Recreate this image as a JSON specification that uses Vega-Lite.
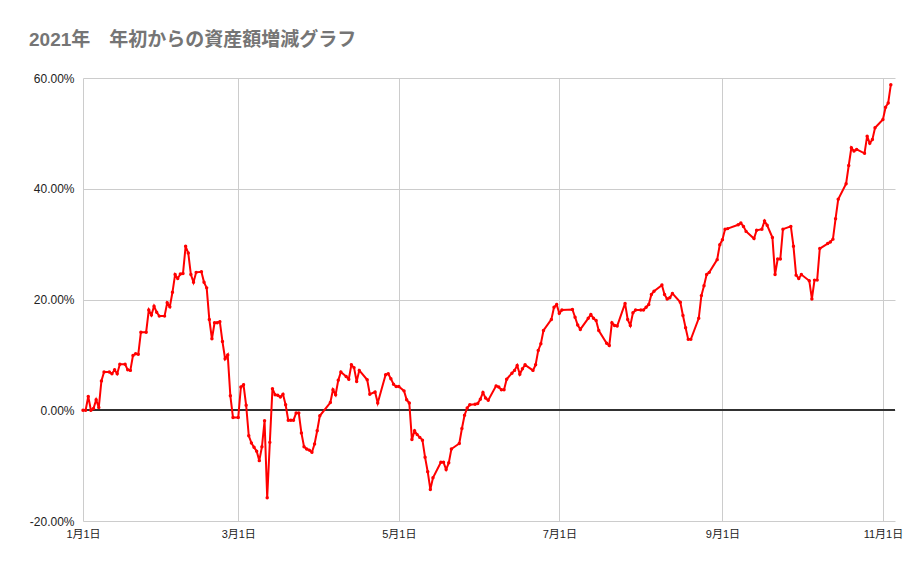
{
  "$schema": "https://vega.github.io/schema/vega-lite/v6.json",
  "width": 812,
  "height": 443,
  "autosize": {"type": "none"},
  "padding": {"left": 83, "top": 78, "right": 26, "bottom": 48},
  "background": "white",
  "title": {
    "text": "2021年　年初からの資産額増減グラフ",
    "anchor": "start",
    "frame": "group",
    "dx": -54,
    "offset": 22,
    "font": "Liberation Sans, Noto Sans CJK JP",
    "fontSize": 19,
    "fontWeight": "bold",
    "color": "#757575"
  },
  "config": {
    "view": {"stroke": null},
    "axis": {
      "labelFont": "Liberation Sans, Noto Sans CJK JP",
      "labelFontSize": 11,
      "labelColor": "#222222",
      "gridColor": "#cccccc",
      "gridWidth": 1,
      "ticks": false,
      "domain": false,
      "title": null
    }
  },
  "data": {
    "values": [
      {"d":"2021/01/01","v":0.0},{"d":"2021/01/02","v":0.0},{"d":"2021/01/03","v":2.5},{"d":"2021/01/04","v":0.0},
      {"d":"2021/01/05","v":0.3},{"d":"2021/01/06","v":1.9},{"d":"2021/01/07","v":0.5},{"d":"2021/01/08","v":5.3},
      {"d":"2021/01/09","v":6.9},{"d":"2021/01/11","v":6.9},{"d":"2021/01/12","v":6.6},{"d":"2021/01/13","v":7.3},
      {"d":"2021/01/14","v":6.6},{"d":"2021/01/15","v":8.3},{"d":"2021/01/17","v":8.3},{"d":"2021/01/18","v":7.3},
      {"d":"2021/01/19","v":7.2},{"d":"2021/01/20","v":9.9},{"d":"2021/01/21","v":10.2},{"d":"2021/01/22","v":10.1},
      {"d":"2021/01/23","v":14.1},{"d":"2021/01/25","v":14.1},{"d":"2021/01/26","v":18.1},{"d":"2021/01/27","v":17.2},
      {"d":"2021/01/28","v":18.8},{"d":"2021/01/29","v":17.7},{"d":"2021/01/30","v":17.0},{"d":"2021/02/01","v":17.0},
      {"d":"2021/02/02","v":19.4},{"d":"2021/02/03","v":18.7},{"d":"2021/02/04","v":21.3},{"d":"2021/02/05","v":24.5},
      {"d":"2021/02/06","v":23.8},{"d":"2021/02/07","v":24.6},{"d":"2021/02/08","v":24.7},{"d":"2021/02/09","v":29.6},
      {"d":"2021/02/10","v":28.4},{"d":"2021/02/11","v":24.5},{"d":"2021/02/12","v":23.1},{"d":"2021/02/13","v":24.9},
      {"d":"2021/02/15","v":25.0},{"d":"2021/02/16","v":23.1},{"d":"2021/02/17","v":22.1},{"d":"2021/02/18","v":16.4},
      {"d":"2021/02/19","v":12.9},{"d":"2021/02/20","v":15.8},{"d":"2021/02/21","v":15.8},{"d":"2021/02/22","v":16.0},
      {"d":"2021/02/23","v":12.4},{"d":"2021/02/24","v":9.3},{"d":"2021/02/25","v":10.0},{"d":"2021/02/26","v":2.6},
      {"d":"2021/02/27","v":-1.3},{"d":"2021/03/01","v":-1.3},{"d":"2021/03/02","v":4.2},{"d":"2021/03/03","v":4.6},
      {"d":"2021/03/04","v":0.9},{"d":"2021/03/05","v":-4.6},{"d":"2021/03/06","v":-5.9},{"d":"2021/03/07","v":-6.7},
      {"d":"2021/03/08","v":-7.4},{"d":"2021/03/09","v":-9.1},{"d":"2021/03/10","v":-6.6},{"d":"2021/03/11","v":-1.9},
      {"d":"2021/03/12","v":-15.8},{"d":"2021/03/13","v":-5.8},{"d":"2021/03/14","v":3.9},{"d":"2021/03/15","v":2.8},
      {"d":"2021/03/16","v":2.7},{"d":"2021/03/17","v":2.4},{"d":"2021/03/18","v":2.9},{"d":"2021/03/19","v":1.0},
      {"d":"2021/03/20","v":-1.8},{"d":"2021/03/21","v":-1.8},{"d":"2021/03/22","v":-1.8},{"d":"2021/03/23","v":-0.5},
      {"d":"2021/03/24","v":-0.5},{"d":"2021/03/25","v":-4.1},{"d":"2021/03/26","v":-6.6},{"d":"2021/03/27","v":-7.0},
      {"d":"2021/03/28","v":-7.2},{"d":"2021/03/29","v":-7.6},{"d":"2021/03/30","v":-6.1},{"d":"2021/03/31","v":-3.7},
      {"d":"2021/04/01","v":-1.0},{"d":"2021/04/05","v":1.4},{"d":"2021/04/06","v":3.7},{"d":"2021/04/07","v":2.8},
      {"d":"2021/04/08","v":5.4},{"d":"2021/04/09","v":6.9},{"d":"2021/04/11","v":6.1},{"d":"2021/04/12","v":5.6},
      {"d":"2021/04/13","v":8.2},{"d":"2021/04/14","v":7.7},{"d":"2021/04/15","v":5.2},{"d":"2021/04/16","v":7.2},
      {"d":"2021/04/19","v":5.5},{"d":"2021/04/20","v":2.9},{"d":"2021/04/22","v":3.3},{"d":"2021/04/23","v":1.3},
      {"d":"2021/04/26","v":6.4},{"d":"2021/04/27","v":6.6},{"d":"2021/04/28","v":5.7},{"d":"2021/04/29","v":4.7},
      {"d":"2021/04/30","v":4.3},{"d":"2021/05/01","v":4.3},{"d":"2021/05/03","v":3.5},{"d":"2021/05/04","v":1.9},
      {"d":"2021/05/05","v":1.3},{"d":"2021/05/06","v":-5.3},{"d":"2021/05/07","v":-3.7},{"d":"2021/05/08","v":-4.4},
      {"d":"2021/05/09","v":-4.9},{"d":"2021/05/10","v":-5.4},{"d":"2021/05/11","v":-8.5},{"d":"2021/05/12","v":-11.1},
      {"d":"2021/05/13","v":-14.3},{"d":"2021/05/14","v":-12.2},{"d":"2021/05/17","v":-9.4},{"d":"2021/05/18","v":-9.4},
      {"d":"2021/05/19","v":-10.7},{"d":"2021/05/20","v":-9.5},{"d":"2021/05/21","v":-7.0},{"d":"2021/05/24","v":-6.0},
      {"d":"2021/05/25","v":-3.3},{"d":"2021/05/26","v":-0.9},{"d":"2021/05/27","v":0.4},{"d":"2021/05/28","v":1.0},
      {"d":"2021/05/30","v":1.1},{"d":"2021/05/31","v":1.2},{"d":"2021/06/01","v":2.0},{"d":"2021/06/02","v":3.2},
      {"d":"2021/06/03","v":2.2},{"d":"2021/06/04","v":1.8},{"d":"2021/06/07","v":4.4},{"d":"2021/06/08","v":4.2},
      {"d":"2021/06/09","v":3.7},{"d":"2021/06/10","v":3.7},{"d":"2021/06/11","v":5.6},{"d":"2021/06/13","v":6.7},
      {"d":"2021/06/14","v":7.2},{"d":"2021/06/15","v":8.1},{"d":"2021/06/16","v":6.5},{"d":"2021/06/17","v":7.5},
      {"d":"2021/06/18","v":8.2},{"d":"2021/06/21","v":7.2},{"d":"2021/06/22","v":8.2},{"d":"2021/06/23","v":10.8},
      {"d":"2021/06/24","v":12.0},{"d":"2021/06/25","v":14.4},{"d":"2021/06/28","v":16.4},{"d":"2021/06/29","v":18.6},
      {"d":"2021/06/30","v":19.1},{"d":"2021/07/01","v":17.5},{"d":"2021/07/02","v":18.1},{"d":"2021/07/06","v":18.2},
      {"d":"2021/07/07","v":16.8},{"d":"2021/07/08","v":15.4},{"d":"2021/07/09","v":14.6},{"d":"2021/07/12","v":16.6},
      {"d":"2021/07/13","v":17.3},{"d":"2021/07/14","v":16.6},{"d":"2021/07/15","v":16.2},{"d":"2021/07/16","v":14.4},
      {"d":"2021/07/19","v":12.1},{"d":"2021/07/20","v":11.7},{"d":"2021/07/21","v":15.8},{"d":"2021/07/22","v":15.3},
      {"d":"2021/07/23","v":15.2},{"d":"2021/07/26","v":19.3},{"d":"2021/07/27","v":16.4},{"d":"2021/07/28","v":15.3},
      {"d":"2021/07/29","v":17.6},{"d":"2021/07/30","v":18.1},{"d":"2021/08/01","v":18.1},{"d":"2021/08/02","v":18.1},
      {"d":"2021/08/03","v":18.6},{"d":"2021/08/04","v":19.1},{"d":"2021/08/05","v":20.9},{"d":"2021/08/06","v":21.5},
      {"d":"2021/08/09","v":22.6},{"d":"2021/08/10","v":20.9},{"d":"2021/08/11","v":20.1},{"d":"2021/08/12","v":20.3},
      {"d":"2021/08/13","v":21.1},{"d":"2021/08/16","v":19.5},{"d":"2021/08/17","v":17.1},{"d":"2021/08/18","v":14.9},
      {"d":"2021/08/19","v":12.8},{"d":"2021/08/20","v":12.8},{"d":"2021/08/23","v":16.6},{"d":"2021/08/24","v":20.7},
      {"d":"2021/08/25","v":22.5},{"d":"2021/08/26","v":24.5},{"d":"2021/08/27","v":24.9},{"d":"2021/08/30","v":27.2},
      {"d":"2021/08/31","v":29.9},{"d":"2021/09/01","v":30.8},{"d":"2021/09/02","v":32.7},{"d":"2021/09/03","v":32.8},
      {"d":"2021/09/07","v":33.5},{"d":"2021/09/08","v":33.8},{"d":"2021/09/09","v":33.2},{"d":"2021/09/10","v":32.3},
      {"d":"2021/09/13","v":31.0},{"d":"2021/09/14","v":32.5},{"d":"2021/09/16","v":32.7},{"d":"2021/09/17","v":34.2},
      {"d":"2021/09/18","v":33.4},{"d":"2021/09/20","v":31.2},{"d":"2021/09/21","v":24.5},{"d":"2021/09/22","v":27.3},
      {"d":"2021/09/23","v":27.3},{"d":"2021/09/24","v":32.7},{"d":"2021/09/27","v":33.2},{"d":"2021/09/28","v":29.6},
      {"d":"2021/09/29","v":24.4},{"d":"2021/09/30","v":23.8},{"d":"2021/10/01","v":24.5},{"d":"2021/10/04","v":23.4},
      {"d":"2021/10/05","v":20.1},{"d":"2021/10/06","v":23.5},{"d":"2021/10/07","v":23.5},{"d":"2021/10/08","v":29.2},
      {"d":"2021/10/11","v":30.1},{"d":"2021/10/12","v":30.4},{"d":"2021/10/13","v":30.9},{"d":"2021/10/14","v":34.6},
      {"d":"2021/10/15","v":38.1},{"d":"2021/10/18","v":40.9},{"d":"2021/10/19","v":44.2},{"d":"2021/10/20","v":47.4},
      {"d":"2021/10/21","v":46.8},{"d":"2021/10/22","v":47.1},{"d":"2021/10/25","v":46.4},{"d":"2021/10/26","v":49.5},
      {"d":"2021/10/27","v":48.2},{"d":"2021/10/28","v":48.9},{"d":"2021/10/29","v":51.0},{"d":"2021/11/01","v":52.5},
      {"d":"2021/11/02","v":54.7},{"d":"2021/11/03","v":55.5},{"d":"2021/11/04","v":58.8}
    ]
  },
  "layer": [
    {
      "mark": {"type": "rule", "color": "#333333", "strokeWidth": 1},
      "encoding": {
        "y": {
          "datum": 0,
          "type": "quantitative",
          "scale": {"domain": [-20, 60], "nice": false, "zero": false},
          "axis": {
            "grid": true,
            "gridColor": "#cccccc",
            "values": [-20, 0, 20, 40, 60],
            "labelExpr": "replace(format(datum.value, '.2f'), '−', '-') + '%'",
            "labelFontSize": 12,
            "labelPadding": 9
          }
        }
      }
    },
    {
      "mark": {
        "type": "line",
        "color": "#ff0000",
        "strokeWidth": 2,
        "point": {"filled": true, "size": 12, "color": "#ff0000"}
      },
      "encoding": {
        "x": {
          "field": "d",
          "type": "temporal",
          "scale": {
            "domain": [
              {"year": 2021, "month": 1, "date": 1},
              {"year": 2021, "month": 11, "date": 5, "hours": 14}
            ]
          },
          "axis": {
            "grid": true,
            "tickCount": {"interval": "month", "step": 2},
            "labelExpr": "(month(datum.value) + 1) + '月' + date(datum.value) + '日'",
            "labelPadding": 7,
            "labelFontSize": 11,
            "labelFlush": false
          }
        },
        "y": {"field": "v", "type": "quantitative"}
      }
    }
  ]
}
